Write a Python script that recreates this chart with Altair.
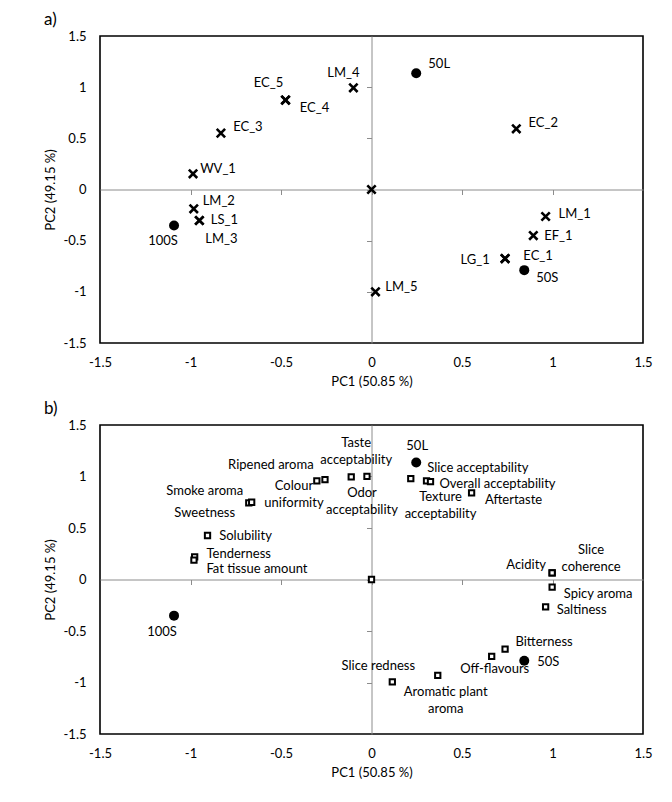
import altair as alt
import pandas as pd

FONT = "Lato"
W = 543
HA = 307
HB = 309
LINE_H = 17

# ---------------- data ----------------
sample_names = ["50L", "100S", "50S"]
sample_pc1 = [0.247, -1.091, 0.844]
sample_pc2 = [1.136, -0.351, -0.788]

# panel a: loadings (crosses); first one is the unlabelled origin point
a_names = ["", "LM_4", "EC_5", "EC_4", "EC_3", "WV_1", "LM_2", "LS_1", "LM_3",
           "EC_2", "LM_1", "EF_1", "LG_1", "EC_1", "LM_5"]
a_pc1 = [0.0, -0.100, -0.475, -0.475, -0.832, -0.986, -0.982, -0.951, -0.951,
         0.800, 0.962, 0.894, 0.738, 0.738, 0.022]
a_pc2 = [0.0, 0.994, 0.874, 0.874, 0.551, 0.153, -0.189, -0.303, -0.303,
         0.593, -0.264, -0.450, -0.675, -0.675, -1.000]

# panel b: sensory attributes (open squares); first one is the origin point
b_names = ["", "Ripened aroma", "Colour\nuniformity", "Taste\nacceptability",
           "Odor\nacceptability", "Slice acceptability", "Texture\nacceptability",
           "Overall acceptability", "Aftertaste", "Smoke aroma", "Sweetness",
           "Solubility", "Tenderness", "Fat tissue amount", "Acidity",
           "Slice\ncoherence", "Spicy aroma", "Saltiness", "Bitterness",
           "Off-flavours", "Aromatic plant\naroma", "Slice redness"]
b_pc1 = [0.0, -0.302, -0.257, -0.112, -0.025, 0.217, 0.304, 0.326, 0.553,
         -0.678, -0.662, -0.906, -0.977, -0.981, 0.998, 0.998, 0.998, 0.962,
         0.738, 0.664, 0.366, 0.115]
b_pc2 = [0.0, 0.957, 0.970, 0.996, 1.002, 0.980, 0.957, 0.951, 0.841,
         0.744, 0.750, 0.427, 0.220, 0.188, 0.065, 0.065, -0.074, -0.265,
         -0.676, -0.747, -0.931, -0.993]

ticks = [-1.5, -1.0, -0.5, 0.0, 0.5, 1.0, 1.5]

# ---------------- label layout (pixel offsets from the marker to label centre) ----------------
sample_off_a = {"50L": (23, -9), "100S": (-11, 16), "50S": (23, 8)}
sample_off_b = {"50L": (1, -16), "100S": (-12, 16), "50S": (24, 1)}
a_off = {"LM_4": (-10, -15), "EC_5": (-17, -17), "EC_4": (29, 8), "EC_3": (27, -6),
         "WV_1": (25, -5), "LM_2": (25, -8), "LS_1": (25, -1), "LM_3": (22, 18),
         "EC_2": (27, -6), "LM_1": (29, -3), "EF_1": (25, 0), "LG_1": (-30, 1),
         "EC_1": (33, -3), "LM_5": (26, -5)}
b_off = {"Ripened aroma": (-46, -16), "Colour\nuniformity": (-31, 15),
         "Taste\nacceptability": (5, -25), "Odor\nacceptability": (-5, 25),
         "Slice acceptability": (67, -11), "Texture\nacceptability": (14, 25),
         "Overall acceptability": (67, 2), "Aftertaste": (42, 7),
         "Smoke aroma": (-44, -12), "Sweetness": (-47, 11), "Solubility": (38, 0),
         "Tenderness": (44, -3), "Fat tissue amount": (63, 9), "Acidity": (-26, -8),
         "Slice\ncoherence": (39, -14), "Spicy aroma": (46, 7), "Saltiness": (36, 3),
         "Bitterness": (39, -7), "Off-flavours": (3, 13),
         "Aromatic plant\naroma": (8, 25), "Slice redness": (-14, -16)}


def frame(names, xs, ys, offs, h):
    df = pd.DataFrame({"name": names, "pc1": xs, "pc2": ys})
    dx = [offs.get(n, (0, 0))[0] for n in names]
    # the first line sits at the anchor: move multi-line blocks up by half their extra height
    dy = [offs.get(n, (0, 0))[1] - (n.count("\n") * LINE_H) / 2.0 for n in names]
    df["lx"] = [x + d * 3.0 / W for x, d in zip(xs, dx)]
    df["ly"] = [y - d * 3.0 / h for y, d in zip(ys, dy)]
    return df


scale = alt.Scale(domain=[-1.5, 1.5], nice=False, zero=False)
label_expr = "datum.value < 0 ? '-' + format(-datum.value, '') : format(datum.value, '')"


def outer_x():
    return alt.Axis(orient="bottom", values=ticks, labelExpr=label_expr, ticks=False,
                    domain=False, grid=False, labelPadding=13, titlePadding=6,
                    labelFont=FONT, titleFont=FONT, labelFontSize=13, titleFontSize=13,
                    labelColor="black", titleColor="black", titleFontWeight="normal",
                    labelFlush=False)


def outer_y():
    return alt.Axis(orient="left", values=ticks, labelExpr=label_expr, ticks=False,
                    domain=False, grid=False, labelPadding=14, titlePadding=6,
                    labelFont=FONT, titleFont=FONT, labelFontSize=13, titleFontSize=13,
                    labelColor="black", titleColor="black", titleFontWeight="normal",
                    labelFlush=False)


def panel(title, h, pts_df, pts_mark, s_df):
    center = alt.Chart(pd.DataFrame({"x": [0.0], "y": [0.0]})).mark_point(opacity=0).encode(
        x=alt.X("x:Q", scale=scale, title="",
                axis=alt.Axis(orient="bottom", offset=-h / 2, values=[-1, -0.5, 0, 0.5, 1],
                              labels=False, grid=False, domainColor="#8c8c8c",
                              tickColor="#8c8c8c", tickSize=5, domainWidth=1)),
        y=alt.Y("y:Q", scale=scale, title="",
                axis=alt.Axis(orient="left", offset=-W / 2, values=[-1, -0.5, 0, 0.5, 1],
                              labels=False, grid=False, domainColor="#8c8c8c",
                              tickColor="#8c8c8c", tickSize=5, domainWidth=1)),
    )
    pts = alt.Chart(pts_df).mark_point(**pts_mark).encode(
        x=alt.X("pc1:Q", scale=scale, title="PC1 (50.85 %)", axis=outer_x()),
        y=alt.Y("pc2:Q", scale=scale, title="PC2 (49.15 %)", axis=outer_y()),
    )
    smp = alt.Chart(s_df).mark_circle(size=100, color="black", opacity=1).encode(
        x=alt.X("pc1:Q", scale=scale, axis=None),
        y=alt.Y("pc2:Q", scale=scale, axis=None),
    )
    txt_style = dict(font=FONT, fontSize=13, color="black", align="center",
                     baseline="middle", lineBreak="\n", lineHeight=LINE_H)
    t1 = alt.Chart(pts_df).mark_text(**txt_style).encode(
        x=alt.X("lx:Q", scale=scale, axis=None),
        y=alt.Y("ly:Q", scale=scale, axis=None),
        text="name:N",
    )
    t2 = alt.Chart(s_df).mark_text(**txt_style).encode(
        x=alt.X("lx:Q", scale=scale, axis=None),
        y=alt.Y("ly:Q", scale=scale, axis=None),
        text="name:N",
    )
    return alt.layer(center, pts, smp, t1, t2).resolve_axis(
        x="independent", y="independent"
    ).properties(
        width=W, height=h,
        title=alt.TitleParams(title, anchor="start", font=FONT, fontSize=17,
                              fontWeight="normal", color="black", offset=1),
    )


a_df = frame(a_names, a_pc1, a_pc2, a_off, HA)
b_df = frame(b_names, b_pc1, b_pc2, b_off, HB)
sa_df = frame(sample_names, sample_pc1, sample_pc2, sample_off_a, HA)
sb_df = frame(sample_names, sample_pc1, sample_pc2, sample_off_b, HB)

cross_mark = dict(shape="M-1,-1L1,1M-1,1L1,-1", filled=False, color="black",
                  strokeWidth=2.6, size=70, opacity=1)
square_mark = dict(shape="square", filled=True, fill="white", stroke="black",
                   strokeWidth=2, size=28, opacity=1)

pa = panel("a)", HA, a_df, cross_mark, sa_df)
pb = panel("b)", HB, b_df, square_mark, sb_df)

chart = alt.vconcat(pa, pb, spacing=10).properties(
    padding={"left": 35, "top": 2, "right": 5, "bottom": 5},
    background="white",
).configure_view(stroke="black", strokeWidth=1.6)

chart.save("out.html", embed_options={"renderer": "svg", "actions": False})
